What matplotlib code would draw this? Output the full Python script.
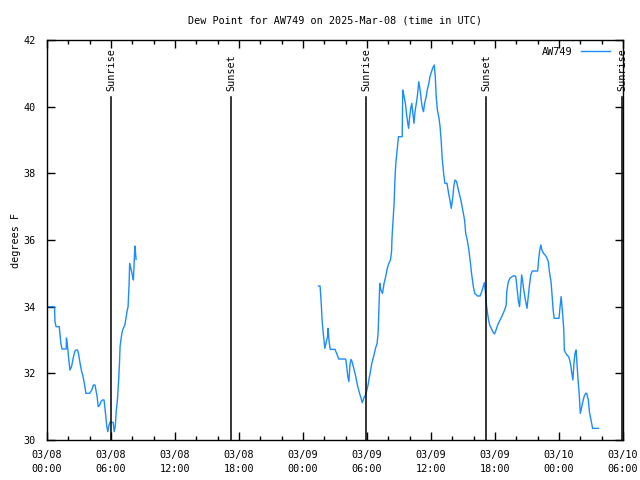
import matplotlib
matplotlib.use("Agg")
import matplotlib.pyplot as plt
import numpy as np

# hours since 2025-03-08 00:00 UTC
seg1_hours = [0.0, 0.7, 0.75, 0.85, 1.15, 1.3, 1.4, 1.8, 1.82, 1.9, 2.03, 2.15, 2.3, 2.45, 2.6, 2.7, 2.85,
              2.95, 3.1, 3.25, 3.35, 3.5, 3.65, 4.0, 4.2, 4.35, 4.5, 4.7, 4.8, 4.95, 5.05, 5.2, 5.35, 5.5,
              5.6, 5.7, 5.8, 5.9, 6.2, 6.3, 6.4, 6.5, 6.6, 6.7, 6.8, 6.85, 6.95, 7.05, 7.15, 7.3, 7.4, 7.5,
              7.6, 7.7, 7.75, 7.9, 8.0, 8.1, 8.2, 8.25, 8.35]
seg1_dewpt = [34.0, 34.0, 33.55, 33.4, 33.4, 32.9, 32.73, 32.73, 33.06, 32.9, 32.45, 32.1, 32.2, 32.45, 32.65,
              32.7, 32.7, 32.6, 32.3, 32.05, 31.95, 31.7, 31.4, 31.4, 31.5, 31.65, 31.65, 31.3, 31.0, 31.05,
              31.15, 31.2, 31.2, 30.75, 30.42, 30.25, 30.42, 30.53, 30.53, 30.25, 30.42, 30.9, 31.2, 31.7,
              32.35, 32.8, 33.05, 33.25, 33.35, 33.45, 33.65, 33.85, 34.0, 34.7, 35.3, 35.1, 34.95, 34.8,
              35.55, 35.82, 35.42]

seg2_hours = [25.45, 25.6, 25.7, 25.8, 25.9, 26.05, 26.15, 26.3, 26.35, 26.45, 26.55, 27.0, 27.15, 27.35, 28.0,
              28.1, 28.2, 28.3, 28.4, 28.5, 28.6, 28.8, 28.95, 29.1, 29.3, 29.45, 29.55, 29.7, 29.85, 29.95,
              30.1, 30.2, 30.35, 30.45, 30.6, 30.7, 30.8, 30.95, 31.05, 31.1, 31.2, 31.3, 31.45, 31.6,
              31.75, 31.9, 32.05, 32.2, 32.3, 32.35, 32.45, 32.55, 32.6, 32.7, 32.85, 32.95, 33.3, 33.35,
              33.45, 33.6, 33.7, 33.8, 33.9, 34.0, 34.1, 34.2, 34.3, 34.4, 34.5, 34.65, 34.75, 34.85, 35.0,
              35.1, 35.2, 35.3, 35.4, 35.55, 35.65, 35.8, 35.9, 36.05, 36.15, 36.3, 36.4, 36.5, 36.6,
              36.75, 36.85, 36.95, 37.05, 37.2, 37.3, 37.5, 37.65, 37.8, 37.9, 38.05, 38.15, 38.25, 38.4,
              38.5, 38.6, 38.8, 38.95, 39.15, 39.25, 39.4, 39.55, 39.7, 39.8, 39.97, 40.1, 40.35, 40.6,
              40.75, 40.9, 41.0, 41.1, 41.2, 41.3, 41.4, 41.5, 41.65, 41.8, 41.95, 42.1, 42.25, 42.4,
              42.55, 42.7, 42.9, 43.05, 43.1, 43.25, 43.4, 43.6, 43.8, 43.95, 44.1, 44.2, 44.3, 44.4,
              44.5, 44.6, 44.7, 44.85, 45.0, 45.1, 45.25, 45.35, 45.5, 46.0, 46.1, 46.2, 46.3, 46.4,
              46.55, 46.7, 46.8, 47.0, 47.1, 47.25, 47.35, 47.45, 47.55, 48.0, 48.1, 48.2, 48.3, 48.45,
              48.5, 48.6, 48.75, 48.9, 49.0, 49.1, 49.2, 49.3, 49.4, 49.5, 49.6, 49.7, 49.8, 49.9, 50.0,
              50.1, 50.2, 50.35, 50.5, 50.6, 50.75, 50.85, 51.0, 51.15, 51.7]
seg2_dewpt = [34.62, 34.62, 34.15, 33.55, 33.2, 32.75, 32.9, 33.1, 33.35, 32.95, 32.72, 32.72, 32.6, 32.43, 32.43,
              32.2, 31.9, 31.75, 32.25, 32.42, 32.35, 32.1, 31.9, 31.65, 31.4, 31.25, 31.12, 31.25, 31.35,
              31.45, 31.65, 31.85, 32.1, 32.3, 32.48, 32.62, 32.75, 32.9, 33.25, 33.8, 34.7, 34.5, 34.4,
              34.7, 34.9, 35.15, 35.3, 35.4, 35.65, 36.1, 36.6, 37.15, 37.7, 38.3, 38.8, 39.1, 39.1, 40.5,
              40.35, 40.1, 39.8, 39.55, 39.35, 39.7, 39.95, 40.1, 39.8, 39.5, 39.85, 40.15, 40.4, 40.75,
              40.45, 40.15, 39.95, 39.85, 40.1, 40.3, 40.5, 40.7, 40.9, 41.05, 41.15, 41.25, 40.9, 40.25,
              39.9, 39.65, 39.4, 39.0, 38.45, 37.95, 37.7, 37.7, 37.4, 37.15, 36.95, 37.3, 37.65, 37.8,
              37.75, 37.6, 37.45, 37.2, 36.95, 36.6, 36.2, 36.0, 35.7, 35.3, 35.0, 34.6, 34.4, 34.32,
              34.32, 34.45, 34.6, 34.72, 34.45, 34.05, 33.8, 33.6, 33.45, 33.35, 33.25, 33.18, 33.3,
              33.45, 33.55, 33.65, 33.75, 33.9, 34.05, 34.45, 34.75, 34.85, 34.9, 34.93, 34.9, 34.45,
              34.15, 34.0, 34.5, 34.95, 34.75, 34.5, 34.2, 33.95, 34.25, 34.7, 34.95, 35.07, 35.07, 35.45,
              35.7, 35.85, 35.7, 35.6, 35.55, 35.5, 35.35, 35.05, 34.75, 34.35, 33.9, 33.65, 33.65, 34.0,
              34.3, 33.95, 33.3, 32.7, 32.62, 32.55, 32.5, 32.4, 32.25, 32.0, 31.8, 32.3, 32.6, 32.7,
              32.2, 31.75, 31.35, 30.8, 30.95, 31.1, 31.3, 31.4, 31.4, 31.2, 30.85, 30.6, 30.35, 30.35]

sun_hours = [6.0, 17.25, 29.9, 41.15, 53.9]
sun_labels = ["Sunrise", "Sunset", "Sunrise", "Sunset", "Sunrise"]

xtick_hours = [0, 6, 12, 18, 24, 30, 36, 42, 48, 54]
xtick_labels = ["03/08\n00:00", "03/08\n06:00", "03/08\n12:00", "03/08\n18:00", "03/09\n00:00",
                "03/09\n06:00", "03/09\n12:00", "03/09\n18:00", "03/10\n00:00", "03/10\n06:00"]
ytick_vals = [30, 32, 34, 36, 38, 40, 42]

FONT = "DejaVu Sans Mono"
FS = 7.3
color = "#1a8cff"

fig = plt.figure(figsize=(6.4, 4.8), dpi=100)
ax = fig.add_axes([47/640, 40/480, 576/640, 400/480])

ax.plot(seg1_hours, seg1_dewpt, color=color, lw=1, label="AW749")
ax.plot(seg2_hours, seg2_dewpt, color=color, lw=1)

for h, lab in zip(sun_hours, sun_labels):
    ax.plot([h, h], [0, 0.8575], color="black", lw=1.1, transform=ax.get_xaxis_transform())
    ax.text(h, 0.873, lab, rotation=90, ha="center", va="bottom", fontsize=FS, family=FONT,
            transform=ax.get_xaxis_transform())

ax.set_xlim(0, 54)
ax.set_ylim(30, 42)
ax.set_xticks(xtick_hours)
ax.set_xticklabels(xtick_labels, fontsize=FS, family=FONT, linespacing=1.55)
ax.set_xticks(np.arange(0, 55, 2), minor=True)
ax.set_yticks(ytick_vals)
ax.set_yticklabels([str(v) for v in ytick_vals], fontsize=FS, family=FONT)
ax.tick_params(which="both", direction="in", top=True, right=True, width=1, color="black")
ax.tick_params(which="major", length=6)
ax.tick_params(axis="x", which="major", pad=7)
ax.tick_params(axis="y", which="major", pad=8)
ax.tick_params(which="minor", length=3)
for s in ax.spines.values():
    s.set_linewidth(1)

ax.set_title("Dew Point for AW749 on 2025-Mar-08 (time in UTC)", fontsize=FS, family=FONT, pad=12)
ax.set_ylabel("degrees F", fontsize=FS, family=FONT, labelpad=2)

leg = ax.legend(loc="upper right", frameon=False, prop={"family": FONT, "size": FS},
                handlelength=2.9, handletextpad=0.8, markerfirst=False,
                bbox_to_anchor=(1 - 13/576, 1 - 7/400), borderaxespad=0, borderpad=0)

fig.savefig("out.png", dpi=100)
